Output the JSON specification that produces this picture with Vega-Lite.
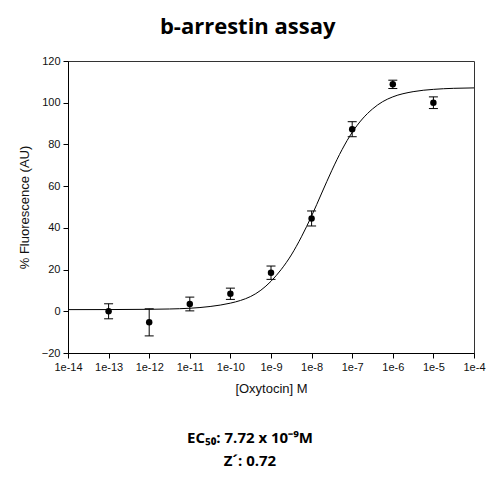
{
  "$schema": "https://vega.github.io/schema/vega-lite/v6.json",
  "description": "b-arrestin assay dose response for oxytocin, mean +/- error with fitted curve.",
  "width": 406,
  "height": 292,
  "autosize": "none",
  "padding": {"left": 68, "top": 61, "right": 26, "bottom": 147},
  "title": {
    "text": "b-arrestin assay",
    "font": "Open Sans",
    "fontSize": 22,
    "fontWeight": "bold",
    "color": "black",
    "anchor": "middle",
    "frame": "bounds",
    "dx": -4,
    "offset": 16
  },
  "datasets": {
    "points": [
      {"conc": 1e-13, "mean": 0.0, "err": 3.6},
      {"conc": 1e-12, "mean": -5.3, "err": 6.5},
      {"conc": 1e-11, "mean": 3.5, "err": 3.3},
      {"conc": 1e-10, "mean": 8.4, "err": 2.7},
      {"conc": 1e-9, "mean": 18.5, "err": 3.2},
      {"conc": 1e-8, "mean": 44.5, "err": 3.6},
      {"conc": 1e-7, "mean": 87.3, "err": 3.6},
      {"conc": 1e-6, "mean": 108.8, "err": 2.0},
      {"conc": 1e-5, "mean": 100.0, "err": 2.8}
    ],
    "fit": [
      {"conc": 1e-14, "fit": 0.8},
      {"conc": 1e-13, "fit": 0.82},
      {"conc": 1e-12, "fit": 0.95},
      {"conc": 3.162e-12, "fit": 1.1},
      {"conc": 1e-11, "fit": 1.45},
      {"conc": 3.162e-11, "fit": 2.3},
      {"conc": 1e-10, "fit": 3.9},
      {"conc": 1.778e-10, "fit": 5.2},
      {"conc": 3.162e-10, "fit": 7.1},
      {"conc": 5.623e-10, "fit": 10.1},
      {"conc": 1e-9, "fit": 14.4},
      {"conc": 1.778e-9, "fit": 20.0},
      {"conc": 3.162e-9, "fit": 27.0},
      {"conc": 5.623e-9, "fit": 35.7},
      {"conc": 1e-8, "fit": 45.7},
      {"conc": 1.778e-8, "fit": 56.7},
      {"conc": 3.162e-8, "fit": 67.6},
      {"conc": 5.623e-8, "fit": 77.5},
      {"conc": 1e-7, "fit": 85.8},
      {"conc": 1.778e-7, "fit": 92.2},
      {"conc": 3.162e-7, "fit": 97.0},
      {"conc": 5.623e-7, "fit": 100.5},
      {"conc": 1e-6, "fit": 102.8},
      {"conc": 3.162e-6, "fit": 105.3},
      {"conc": 1e-5, "fit": 106.4},
      {"conc": 3.162e-5, "fit": 106.9},
      {"conc": 1e-4, "fit": 107.1}
    ],
    "notes": [
      {"note": "EC₅₀: 7.72 x 10⁻⁹M\nZ´: 0.72"}
    ]
  },
  "layer": [
    {
      "data": {"name": "fit"},
      "mark": {"type": "line", "color": "black", "strokeWidth": 1, "interpolate": "monotone"},
      "encoding": {
        "x": {
          "field": "conc",
          "type": "quantitative",
          "title": "[Oxytocin] M",
          "scale": {"type": "log", "domain": [1e-14, 1e-4], "nice": false},
          "axis": {
            "values": [1e-14, 1e-13, 1e-12, 1e-11, 1e-10, 1e-9, 1e-8, 1e-7, 1e-6, 1e-5, 1e-4],
            "labelExpr": "'1e' + round(log(datum.value) / LN10)",
            "titlePadding": 10
          }
        },
        "y": {
          "field": "fit",
          "type": "quantitative",
          "title": "% Fluorescence (AU)",
          "scale": {"domain": [-20, 120], "nice": false, "zero": false},
          "axis": {
            "values": [-20, 0, 20, 40, 60, 80, 100, 120],
            "titlePadding": 10
          }
        }
      }
    },
    {
      "data": {"name": "points"},
      "mark": {
        "type": "errorbar",
        "color": "black",
        "ticks": {"size": 9, "thickness": 1, "color": "black", "opacity": 1},
        "rule": {"strokeWidth": 1, "color": "black", "opacity": 1}
      },
      "encoding": {
        "x": {"field": "conc", "type": "quantitative", "title": "[Oxytocin] M"},
        "y": {"field": "mean", "type": "quantitative", "title": "% Fluorescence (AU)"},
        "yError": {"field": "err"}
      }
    },
    {
      "data": {"name": "points"},
      "mark": {"type": "point", "filled": true, "color": "black", "opacity": 1, "size": 42},
      "encoding": {
        "x": {"field": "conc", "type": "quantitative", "title": "[Oxytocin] M"},
        "y": {"field": "mean", "type": "quantitative", "title": "% Fluorescence (AU)"}
      }
    },
    {
      "data": {"name": "notes"},
      "mark": {
        "type": "text",
        "font": "Open Sans",
        "fontSize": 15,
        "fontWeight": "bold",
        "color": "black",
        "align": "center",
        "baseline": "alphabetic",
        "lineBreak": "\n",
        "lineHeight": 23,
        "dx": -21
      },
      "encoding": {
        "text": {"field": "note"},
        "y": {"datum": -63, "type": "quantitative", "title": "% Fluorescence (AU)", "scale": {"domain": [-20, 120], "nice": false, "zero": false}}
      }
    }
  ],
  "config": {
    "view": {"stroke": "#333", "strokeWidth": 1},
    "axis": {
      "grid": false,
      "domainColor": "black",
      "tickColor": "black",
      "tickSize": 5,
      "labelFont": "Liberation Sans",
      "labelFontSize": 11,
      "labelColor": "#111",
      "labelPadding": 3,
      "labelFlush": false,
      "titleFont": "Liberation Sans",
      "titleFontSize": 13,
      "titleFontWeight": "normal",
      "titleColor": "#111"
    }
  }
}
